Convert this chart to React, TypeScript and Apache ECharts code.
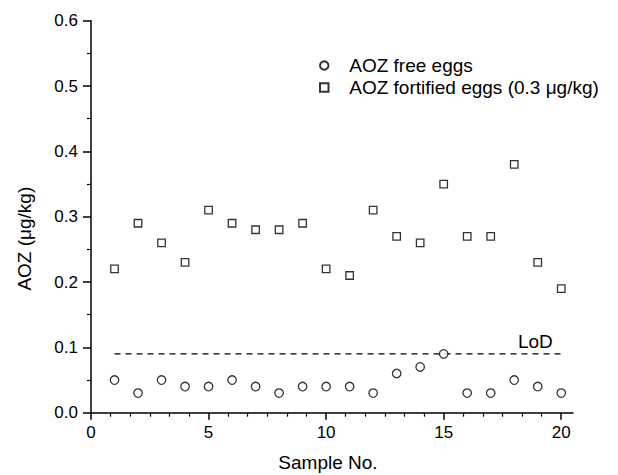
import React, { useEffect, useRef } from "react";
import * as echarts from "echarts";

const sampleNo = [1, 2, 3, 4, 5, 6, 7, 8, 9, 10, 11, 12, 13, 14, 15, 16, 17, 18, 19, 20];
const aozFree = [0.05, 0.03, 0.05, 0.04, 0.04, 0.05, 0.04, 0.03, 0.04, 0.04, 0.04, 0.03, 0.06, 0.07, 0.09, 0.03, 0.03, 0.05, 0.04, 0.03];
const aozFortified = [0.22, 0.29, 0.26, 0.23, 0.31, 0.29, 0.28, 0.28, 0.29, 0.22, 0.21, 0.31, 0.27, 0.26, 0.35, 0.27, 0.27, 0.38, 0.23, 0.19];
const lodValue = 0.09;
const lodRange = [1, 20];
const xMajorTicks = [0, 5, 10, 15, 20];
const seriesNames = ["AOZ free eggs", "AOZ fortified eggs (0.3 \u03bcg/kg)"];
const xTitle = "Sample No.";
const yTitle = "AOZ (\u03bcg/kg)";
const lodText = "LoD";

const FONT = "Liberation Sans, Arial, Helvetica, sans-serif";
const SQUARE_ICON = "path://M0 0H10V10H0Z";

const xMinorTicks: number[] = [];
for (let i = 0; i < xMajorTicks.length - 1; i++) {
  const a = xMajorTicks[i];
  const b = xMajorTicks[i + 1];
  for (let k = 1; k < 6; k++) xMinorTicks.push(a + ((b - a) * k) / 6);
}

export default function App() {
  const ref = useRef<HTMLDivElement>(null);
  useEffect(() => {
    if (!ref.current) return;
    const chart = echarts.init(ref.current, undefined, { renderer: "svg" });
    const markerStyle = { color: "#ffffff", borderColor: "#000000", borderWidth: 1.3 };
    chart.setOption({
      animation: false,
      backgroundColor: "#ffffff",
      textStyle: { fontFamily: FONT },
      grid: { left: 91, top: 20.7, right: 45, bottom: 62.3, outerBoundsMode: "none", containLabel: false },
      legend: {
        orient: "vertical",
        left: 314,
        top: 51,
        itemWidth: 40,
        itemHeight: 8.5,
        itemGap: 3,
        symbolKeepAspect: true,
        selectedMode: false,
        textStyle: { fontSize: 19, color: "#000", fontFamily: FONT, lineHeight: 19 },
        data: [
          { name: seriesNames[0], icon: "circle" },
          { name: seriesNames[1], icon: SQUARE_ICON },
        ],
      },
      xAxis: [
        {
          type: "value",
          min: 0,
          max: 20.5,
          position: "bottom",
          name: xTitle,
          nameLocation: "middle",
          nameGap: 40,
          nameTextStyle: { fontSize: 19, color: "#000", fontFamily: FONT, padding: [0, 8, 0, 0] },
          axisLine: { show: true, lineStyle: { color: "#000", width: 1.5 } },
          axisTick: { show: true, inside: false, length: 7, customValues: xMajorTicks, lineStyle: { color: "#000", width: 1.5 } },
          axisLabel: { show: true, customValues: xMajorTicks, fontSize: 17, color: "#000", margin: 11, fontFamily: FONT },
          splitLine: { show: false },
        },
        {
          type: "value",
          min: 0,
          max: 20.5,
          position: "bottom",
          axisLine: { show: false },
          axisTick: { show: true, inside: false, length: 4, customValues: xMinorTicks, lineStyle: { color: "#000", width: 1.2 } },
          axisLabel: { show: false },
          splitLine: { show: false },
        },
      ],
      yAxis: {
        type: "value",
        min: 0,
        max: 0.6,
        interval: 0.1,
        axisLine: { show: true, lineStyle: { color: "#000", width: 1.5 } },
        axisTick: { show: true, inside: false, length: 8, lineStyle: { color: "#000", width: 1.5 } },
        minorTick: { show: true, splitNumber: 2, length: 4, lineStyle: { color: "#000", width: 1.2 } },
        axisLabel: { fontSize: 17, color: "#000", margin: 13, fontFamily: FONT, formatter: (v: number) => v.toFixed(1) },
        splitLine: { show: false },
        minorSplitLine: { show: false },
      },
      series: [
        {
          type: "line",
          name: "LoD",
          data: [[lodRange[0], lodValue], [lodRange[1], lodValue]],
          symbol: "none",
          lineStyle: { color: "#000", width: 1.3, type: [6, 5] },
          z: 1,
          silent: true,
        },
        {
          type: "scatter",
          name: seriesNames[0],
          symbol: "circle",
          symbolSize: 8.5,
          data: sampleNo.map((x, i) => [x, aozFree[i]]),
          itemStyle: markerStyle,
          z: 3,
        },
        {
          type: "scatter",
          name: seriesNames[1],
          symbol: "rect",
          symbolSize: 7.5,
          data: sampleNo.map((x, i) => [x, aozFortified[i]]),
          itemStyle: markerStyle,
          z: 3,
        },
      ],
    });
    const p = chart.convertToPixel({ xAxisIndex: 0, yAxisIndex: 0 }, [lodRange[1], lodValue]) as number[];
    const mid = chart.convertToPixel({ xAxisIndex: 0, yAxisIndex: 0 }, [0, 0.3]) as number[];
    chart.setOption({
      graphic: [
        {
          type: "text",
          x: p[0] - 8.5,
          y: p[1] - 12,
          style: { text: lodText, font: `19px ${FONT}`, fill: "#000", textAlign: "right", textVerticalAlign: "middle" },
        },
        {
          type: "text",
          x: 24,
          y: mid[1] + 22,
          rotation: Math.PI / 2,
          style: { text: yTitle, font: `19px ${FONT}`, fill: "#000", textAlign: "center", textVerticalAlign: "middle" },
        },
      ],
    });
    return () => chart.dispose();
  }, []);
  return <div ref={ref} style={{ position: "fixed", left: 0, top: 0, width: 618, height: 475 }} />;
}
